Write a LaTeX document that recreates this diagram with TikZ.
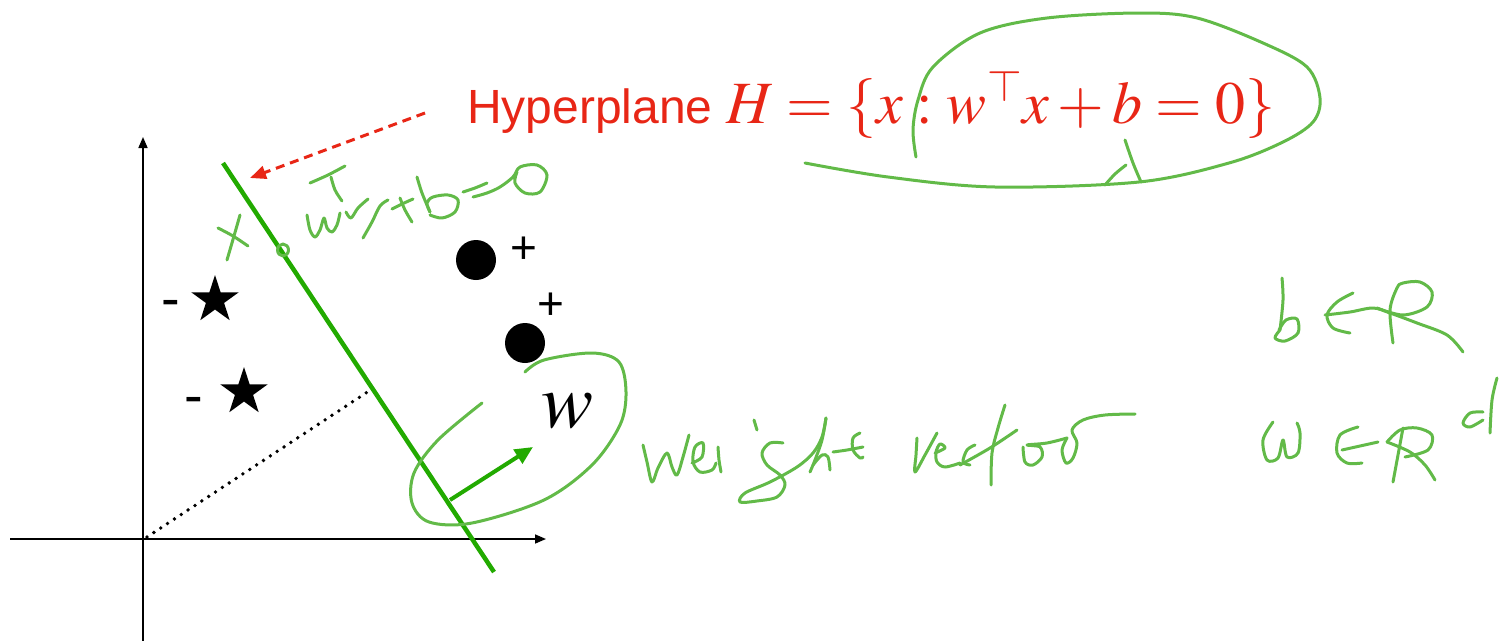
\documentclass[tikz,border=0pt]{standalone}
\usepackage{mathptmx}
\usepackage[no-math]{fontspec}
\setmainfont{Liberation Sans}
\usetikzlibrary{arrows.meta,shapes.geometric}
\definecolor{hyperred}{RGB}{232,38,22}
\definecolor{linegreen}{RGB}{34,170,0}
\definecolor{handgreen}{RGB}{98,186,72}
\tikzset{
  axis/.style={line width=1.6pt, -{Triangle[length=11pt,width=9pt]}},
  hyperline/.style={linegreen, line width=4.5pt},
  wvec/.style={linegreen, line width=4pt, -{Triangle[length=18pt,width=16pt]}},
  dotline/.style={line width=3.8pt, line cap=round, dash pattern=on 0pt off 8.2pt},
  starpt/.style={star, star points=5, star point ratio=2.618, minimum size=50pt, inner sep=0pt, fill=black},
  dotpt/.style={circle, minimum size=40pt, inner sep=0pt, fill=black},
  pmlabel/.style={anchor=base, inner sep=0pt, font=\fontsize{46}{50}\selectfont},
  mlabel/.style={anchor=base, inner sep=0pt, font=\fontsize{56}{60}\selectfont},
  redarrow/.style={hyperred, line width=3pt, dash pattern=on 9pt off 6pt, -{Triangle[length=16pt,width=13pt]}},
  hand/.style={handgreen, line width=3pt, line cap=round, line join=round},
}
\begin{document}
\begin{tikzpicture}[x=1pt,y=-1pt]
\useasboundingbox (0,0) rectangle (1499,640);

% axes
\coordinate (yb) at (143,642); \coordinate (yt) at (143,137);
\coordinate (xl) at (10,539); \coordinate (xr) at (546,539);
\draw[axis] (yb) -- (yt);
\draw[axis] (xl) -- (xr);

% dotted normal
\coordinate (o) at (147,537); \coordinate (foot) at (372,389);
\draw[dotline] (o) -- (foot);

% hyperplane
\coordinate (h1) at (223,163); \coordinate (h2) at (494,572);
\draw[hyperline] (h1) -- (h2);

% weight vector
\coordinate (w0) at (450,500); \coordinate (w1) at (533,447);
\draw[wvec] (w0) -- (w1);
\node[inner sep=0pt, font=\fontsize{78}{80}\selectfont] (wl) at (568,411) {$w$};

% data points
\node[starpt] (s1) at (215,300) {};
\node[starpt] (s2) at (244,392) {};
\node[mlabel] (m1) at (171,317) {-};
\node[mlabel] (m2) at (194,414) {-};
\node[dotpt] (c1) at (476,260) {};
\node[dotpt] (c2) at (525,343) {};
\node[pmlabel] (p1) at (524,263) {+};
\node[pmlabel] (p2) at (551,319) {+};

% title
\node[anchor=base west, inner sep=0pt, text=hyperred, font=\fontsize{48}{56}\selectfont] (hyp) at (467,123)
  {Hyperplane {\fontsize{60}{62}\selectfont$H = \{x : w^{\top} x + b = 0\}$}};
\coordinate (dstart) at (425,113); \coordinate (dend) at (250,178);
\draw[redarrow] (dstart) -- (dend);

% ---- handwriting ----
% loop around formula
\draw[hand] plot[smooth, tension=0.55] coordinates {(916,157) (913,130) (918,100) (933,67) (980,33) (1047,18) (1140,13) (1197,18) (1263,43) (1307,67) (1320,98) (1313,122) (1283,142) (1229,163) (1139,182) (995,187) (888,177) (805,163)};
\draw[hand] plot[smooth, tension=0.55] coordinates {(1125,140) (1133,163) (1141,182)};
\draw[hand] plot[smooth, tension=0.55] coordinates {(1126,165) (1115,174) (1105,185)};

% loop around w
\draw[hand] plot[smooth, tension=0.55] coordinates {(525,372) (544,360) (592,353) (619,362) (626,392) (620,425) (592,465) (544,500) (472,523) (429,522) (412,503) (414,473) (438,440) (482,403)};

% x  w^T x + b = 0
\draw[hand] plot[smooth, tension=0.55] coordinates {(240,215) (234,236) (227,260)};
\draw[hand] plot[smooth, tension=0.55] coordinates {(218,228) (233,236) (248,246)};
\draw[hand] (283,250) ellipse [x radius=5.5pt, y radius=6pt];
\draw[hand] plot[smooth, tension=0.55] coordinates {(310,183) (328,175) (345,166)};
\draw[hand] plot[smooth, tension=0.55] coordinates {(331,177) (335,190) (342,201)};
\draw[hand] plot[smooth, tension=0.55] coordinates {(307,215) (310,230) (315,237) (320,230) (324,218) (327,228) (332,232) (337,225) (340,213)};
\draw[hand] plot[smooth, tension=0.55] coordinates {(346,212) (351,218) (358,208) (368,199)};
\draw[hand] plot[smooth, tension=0.55] coordinates {(363,238) (372,222) (380,206) (388,200)};
\draw[hand] plot[smooth, tension=0.55] coordinates {(392,209) (402,204) (413,199)};
\draw[hand] plot[smooth, tension=0.55] coordinates {(400,198) (405,210) (412,222)};
\draw[hand] plot[smooth, tension=0.55] coordinates {(417,177) (422,193) (430,212)};
\draw[hand] plot[smooth, tension=0.55] coordinates {(430,212) (427,203) (433,197) (448,195) (458,200) (455,212) (442,218) (430,215)};
\draw[hand] plot[smooth, tension=0.55] coordinates {(463,192) (475,188) (487,183)};
\draw[hand] plot[smooth, tension=0.55] coordinates {(473,197) (487,193) (500,187) (513,177) (520,167) (537,165) (547,175) (540,192) (525,193) (515,183) (517,172)};

% weight
\draw[hand] plot[smooth, tension=0.55] coordinates {(643,445) (647,462) (652,482) (658,468) (667,453) (672,467) (677,475) (683,457) (689,435)};
\draw[hand] plot[smooth, tension=0.55] coordinates {(692,463) (702,457) (703,443) (695,447) (693,462) (700,472) (712,470) (716,463)};
\draw[hand] plot[smooth, tension=0.55] coordinates {(718,447) (719,460) (721,472)};
\draw[hand] plot[smooth, tension=0.55] coordinates {(754,420) (757,430)};
\draw[hand] plot[smooth, tension=0.55] coordinates {(783,443) (770,443) (762,453) (767,465) (780,475) (785,485) (777,497) (757,501) (740,502) (745,493) (770,482) (797,467) (813,453) (822,437) (826,418)};
\draw[hand] plot[smooth, tension=0.55] coordinates {(826,418) (822,440) (815,460) (810,472)};
\draw[hand] plot[smooth, tension=0.55] coordinates {(813,465) (822,455) (828,457) (830,470)};
\draw[hand] plot[smooth, tension=0.55] coordinates {(833,452) (847,450) (863,447)};
\draw[hand] plot[smooth, tension=0.55] coordinates {(860,433) (853,438) (853,450) (860,458) (863,457)};

% vector
\draw[hand] plot[smooth, tension=0.55] coordinates {(917,438) (916,455) (915,472) (925,455) (937,433)};
\draw[hand] plot[smooth, tension=0.55] coordinates {(935,453) (945,448) (940,444) (936,452) (937,462) (945,467) (960,463)};
\draw[hand] plot[smooth, tension=0.55] coordinates {(975,445) (967,450) (963,462) (970,465)};
\draw[hand] plot[smooth, tension=0.55] coordinates {(960,465) (990,448) (1017,430)};
\draw[hand] plot[smooth, tension=0.55] coordinates {(1005,405) (998,428) (992,453) (991,485)};
\draw[hand] plot[smooth, tension=0.55] coordinates {(1023,447) (1025,462) (1033,465) (1042,457) (1040,447) (1027,445) (1047,443) (1067,438)};
\draw[hand] plot[smooth, tension=0.55] coordinates {(1067,438) (1062,450) (1066,463) (1073,458) (1077,443) (1072,430) (1083,420) (1105,415) (1135,414)};

% b in R
\draw[hand] plot[smooth, tension=0.55] coordinates {(1282,278) (1283,300) (1280,330)};
\draw[hand] plot[smooth, tension=0.55] coordinates {(1280,330) (1275,338) (1285,341) (1298,333) (1297,319) (1286,320) (1279,330)};
\draw[hand] plot[smooth, tension=0.55] coordinates {(1353,293) (1337,302) (1327,315) (1333,328) (1350,333)};
\draw[hand] plot[smooth, tension=0.55] coordinates {(1325,315) (1350,312) (1373,308) (1390,313) (1417,323) (1447,335) (1463,352)};
\draw[hand] plot[smooth, tension=0.55] coordinates {(1393,343) (1390,310) (1397,288) (1403,283) (1420,282) (1432,292) (1427,307) (1403,315) (1377,308)};

% w in R^d
\draw[hand] plot[smooth, tension=0.55] coordinates {(1273,422) (1263,440) (1267,460) (1278,458) (1283,440) (1287,457) (1298,453) (1300,433) (1297,423)};
\draw[hand] plot[smooth, tension=0.55] coordinates {(1358,427) (1340,435) (1337,453) (1347,463) (1362,463)};
\draw[hand] plot[smooth, tension=0.55] coordinates {(1342,450) (1360,446) (1378,442)};
\draw[hand] plot[smooth, tension=0.55] coordinates {(1403,428) (1398,455) (1393,482)};
\draw[hand] plot[smooth, tension=0.55] coordinates {(1387,442) (1400,430) (1417,428) (1432,435) (1428,450) (1405,457)};
\draw[hand] plot[smooth, tension=0.55] coordinates {(1387,442) (1410,452) (1425,465) (1435,480)};
\draw[hand] plot[smooth, tension=0.55] coordinates {(1483,412) (1470,413) (1463,423) (1470,427) (1483,420)};
\draw[hand] plot[smooth, tension=0.55] coordinates {(1497,378) (1492,400) (1490,433)};
\end{tikzpicture}
\end{document}
